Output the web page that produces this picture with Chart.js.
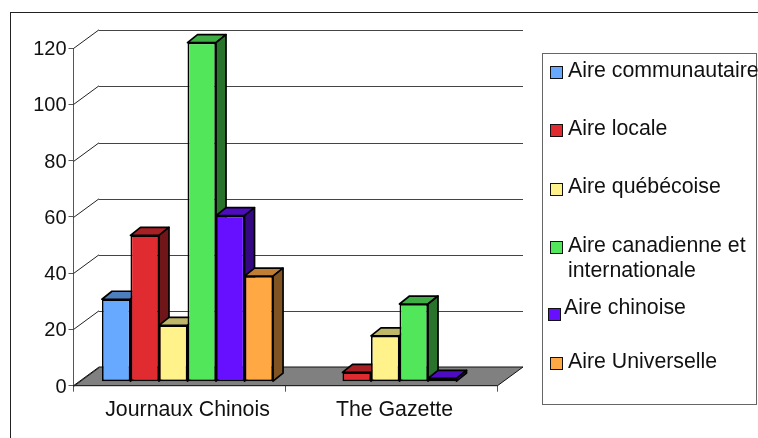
<!DOCTYPE html>
<html>
<head>
<meta charset="utf-8">
<title>Aires de couverture</title>
<script src="https://cdn.jsdelivr.net/npm/chart.js@4/dist/chart.umd.min.js"></script>
<style>
  body { margin: 0; background: #fff; font-family: "Liberation Sans", Arial, sans-serif; color: #111; }
  #wrap { position: relative; width: 758px; height: 438px; overflow: hidden; }
  #frame { position: absolute; left: 10px; top: 12px; right: -5px; bottom: -5px; border: 1px solid #222; }
  canvas { position: absolute; left: 0; top: 0; }
  #legend { position: absolute; left: 542px; top: 53px; width: 213px; height: 350px; border: 1px solid #666; }
  .swatch { position: absolute; width: 11px; height: 11px; border: 1px solid #111; }
  .label { position: absolute; font-size: 21.3px; line-height: 25px; white-space: pre; }
</style>
</head>
<body>
<div id="wrap">
  <div id="frame"></div>
  <canvas id="chart" width="758" height="438"></canvas>
  <div id="legend"></div>
</div>
<script>
const categories = ["Journaux Chinois", "The Gazette"];
const seriesNames = ["Aire communautaire", "Aire locale", "Aire québécoise", "Aire canadienne et\ninternationale", "Aire chinoise", "Aire Universelle"];
const colors = ["#66A9FF", "#E02B30", "#FFF28A", "#52E65A", "#6610FF", "#FFA844"];
const journauxValues = [29.3, 52, 20, 120.5, 59, 37.5];
const gazetteValues = [null, 3.3, 16.3, 27.6, 1.2, null];
const yTicks = [0, 20, 40, 60, 80, 100, 120];

// legend placement, relative to the legend box
const swatchX = [7, 7, 7, 7, 5, 7];
const swatchY = [12, 70, 129, 187, 254, 303];
const labelX = [25, 25, 25, 25, 21, 25];
const labelY = [4, 62, 120, 179, 241, 295];

// fake 3D: depth of the room, depth of a bar, shift of the bars into the room
const room = {dx: 25.5, dy: -18.7};
const bar = {dx: 10, dy: -8};
const barShift = {x: 8, y: -4};
const labelShift = [8, 3];
const barLine = 1.7;

function shade(hex, k) {
  const n = parseInt(hex.slice(1), 16);
  const c = [n >> 16, (n >> 8) & 255, n & 255].map(v => Math.round(v * k));
  return `rgb(${c.join(",")})`;
}

function poly(ctx, pts, fill, stroke, width) {
  ctx.beginPath();
  pts.forEach((p, i) => i ? ctx.lineTo(p[0], p[1]) : ctx.moveTo(p[0], p[1]));
  ctx.closePath();
  ctx.fillStyle = fill;
  ctx.fill();
  ctx.strokeStyle = stroke;
  ctx.lineWidth = width;
  ctx.stroke();
}

function drawRoom(chart) {
  const {ctx, chartArea: area} = chart;
  const y = chart.scales.y;
  const y0 = y.getPixelForValue(0);
  poly(ctx, [
    [area.left, y0],
    [area.left + room.dx, y0 + room.dy],
    [area.right + room.dx, y0 + room.dy],
    [area.right, y0],
  ], "#808080", "#111", 1);
  ctx.lineWidth = 1;
  yTicks.forEach(v => {
    const py = Math.round(y.getPixelForValue(v)) + 0.5;
    ctx.strokeStyle = "#222";
    ctx.beginPath();
    ctx.moveTo(area.left, py);
    ctx.lineTo(area.left + room.dx, py + room.dy);
    ctx.stroke();
    if (v > 0) {
      ctx.strokeStyle = "#444";
      ctx.beginPath();
      ctx.moveTo(area.left + room.dx, Math.round(py + room.dy) + 0.5);
      ctx.lineTo(area.right + room.dx, Math.round(py + room.dy) + 0.5);
      ctx.stroke();
    }
  });
}

// top and side faces, left to right, so the library's front faces land over them
function drawBarFaces(chart) {
  const {ctx} = chart;
  ctx.lineJoin = "round";
  categories.forEach((c, cat) => {
    seriesNames.forEach((name, i) => {
      if (chart.data.datasets[i].data[cat] === null) return;
      const el = chart.getDatasetMeta(i).data[cat];
      const left = el.x - el.width / 2;
      const right = el.x + el.width / 2;
      poly(ctx, [[left, el.y], [left + bar.dx, el.y + bar.dy], [right + bar.dx, el.y + bar.dy], [right, el.y]], shade(colors[i], 0.75), "#000", barLine);
      poly(ctx, [[right, el.y], [right + bar.dx, el.y + bar.dy], [right + bar.dx, el.base + bar.dy], [right, el.base]], shade(colors[i], 0.5), "#000", barLine);
    });
  });
}

const roomPlugin = {
  id: "room",
  beforeDatasetsDraw(chart) {
    const {ctx} = chart;
    ctx.save();
    drawRoom(chart);
    ctx.translate(barShift.x, barShift.y);
    drawBarFaces(chart);
    ctx.restore();
  },
  beforeDatasetDraw(chart) {
    chart.ctx.save();
    chart.ctx.translate(barShift.x, barShift.y);
  },
  afterDatasetDraw(chart) {
    chart.ctx.restore();
  },
  afterDraw(chart) {
    const {ctx} = chart;
    const x = chart.scales.x;
    ctx.save();
    ctx.font = "21.3px 'Liberation Sans'";
    ctx.fillStyle = "#111";
    ctx.textAlign = "center";
    ctx.textBaseline = "alphabetic";
    categories.forEach((c, i) => ctx.fillText(c, x.getPixelForValue(i) + labelShift[i], 416));
    ctx.restore();
  },
};

new Chart(document.getElementById("chart"), {
  type: "bar",
  data: {
    labels: categories,
    datasets: seriesNames.map((name, i) => ({
      label: name,
      data: [journauxValues[i], gazetteValues[i]],
      backgroundColor: colors[i],
      borderColor: "#000",
      borderWidth: barLine,
      borderSkipped: false,
      clip: false,
    })),
  },
  options: {
    responsive: false,
    animation: false,
    layout: {padding: {left: 0, top: 48, right: 260.5, bottom: 0}},
    datasets: {bar: {categoryPercentage: 0.807, barPercentage: 1}},
    plugins: {legend: {display: false}, tooltip: {enabled: false}},
    scales: {
      x: {
        afterFit: s => { s.height = 52.3; },
        grid: {drawOnChartArea: false, color: "#555", tickLength: 6},
        border: {color: "#555"},
        ticks: {display: false},
      },
      y: {
        min: 0,
        max: 120,
        afterFit: s => { s.width = 73.5; },
        grid: {drawOnChartArea: false, color: "#555", tickLength: 5},
        border: {color: "#555"},
        afterBuildTicks: s => { s.ticks = yTicks.map(value => ({value})); },
        ticks: {
          color: "#111",
          padding: 2,
          labelOffset: 1.5,
          font: {family: "Liberation Sans", size: 20},
        },
      },
    },
  },
  plugins: [roomPlugin],
});

const legend = document.getElementById("legend");
seriesNames.forEach((name, i) => {
  const swatch = document.createElement("div");
  swatch.className = "swatch";
  swatch.style.cssText = `left:${swatchX[i]}px;top:${swatchY[i]}px;background:${colors[i]}`;
  legend.appendChild(swatch);
  const label = document.createElement("div");
  label.className = "label";
  label.style.cssText = `left:${labelX[i]}px;top:${labelY[i]}px`;
  label.textContent = name;
  legend.appendChild(label);
});
</script>
</body>
</html>
